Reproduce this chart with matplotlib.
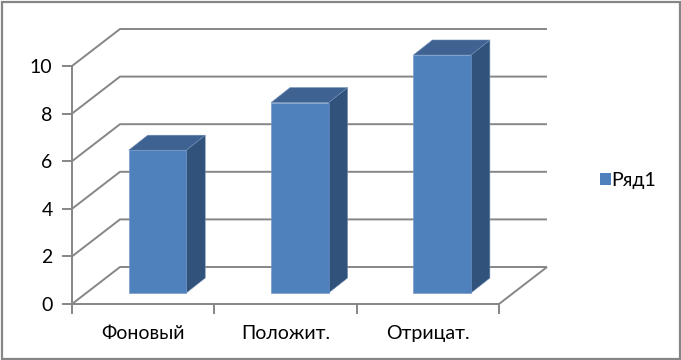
import matplotlib
matplotlib.use("Agg")
import matplotlib.pyplot as plt
from matplotlib.patches import Polygon, Rectangle, Patch

categories = ["Фоновый", "Положит.", "Отрицат."]
values = [6, 8, 10]
y_ticks = [0, 2, 4, 6, 8, 10]
series_name = "Ряд1"

W, H = 681, 360
GRAY = "#868686"
FRONT, TOP, SIDE = "#4F81BD", "#3E6392", "#31527A"

plt.rcParams["font.family"] = ["Lato", "DejaVu Sans"]
fig = plt.figure(figsize=(W / 100, H / 100), dpi=100, facecolor="white")
L, R, B, T = 72, 499, 304, 66
ax = fig.add_axes([L / W, 1 - B / H, (R - L) / W, (B - T) / H])
ax.set_xlim(0, 3)
ax.set_ylim(0, 10)
ax.set_facecolor("none")
for s in ("top", "right"):
    ax.spines[s].set_visible(False)
for s in ("left", "bottom"):
    ax.spines[s].set_color(GRAY)
    ax.spines[s].set_linewidth(1.4)

ux = (R - L) / 3      # pixels per category
uy = (B - T) / 10     # pixels per value unit
wall_dx, wall_dy = 48 / ux, 37 / uy
line_kw = dict(color=GRAY, lw=1.4, clip_on=False, solid_capstyle="butt", zorder=1)

# walls: gridlines and floor
for v in y_ticks:
    ax.plot([0, wall_dx, 3 + wall_dx], [v, v + wall_dy, v + wall_dy], **line_kw)
ax.plot([3, 3 + wall_dx], [0, wall_dy], **line_kw)

# bars
bar_w = 57.5 / ux
lift_dy = 11 / uy
lift_dx = 14.3 / ux
dep_dx, dep_dy = 19 / ux, 15 / uy
for i, v in enumerate(values):
    x0 = i + 0.5 + lift_dx - bar_w / 2
    x1 = x0 + bar_w
    y0, y1 = lift_dy, lift_dy + v
    kw = dict(clip_on=False, zorder=3, lw=0.4)
    ax.add_patch(Polygon([(x1, y0), (x1 + dep_dx, y0 + dep_dy), (x1 + dep_dx, y1 + dep_dy), (x1, y1)],
                         fc=SIDE, ec="#6F8DB5", **kw))
    ax.add_patch(Polygon([(x0, y1), (x1, y1), (x1 + dep_dx, y1 + dep_dy), (x0 + dep_dx, y1 + dep_dy)],
                         fc=TOP, ec="#6F8DB5", **kw))
    ax.add_patch(Rectangle((x0, y0), bar_w, v, fc=FRONT, ec="#6F95C8", **kw))

ax.set_yticks(y_ticks)
ax.set_xticks([0, 1, 2, 3])
ax.set_xticklabels([])
ax.set_xticks([0.5, 1.5, 2.5], categories, minor=True)
ax.tick_params(axis="both", which="major", color=GRAY, width=1.4, length=7, labelsize=14, labelcolor="black")
ax.tick_params(axis="y", pad=7)
ax.tick_params(axis="x", which="minor", length=0, labelsize=14, pad=15)

# legend
ax.legend(handles=[Patch(facecolor=FRONT, label=series_name)], loc="center left",
          bbox_to_anchor=((600 - L) / (R - L), (B - 180.5) / (B - T)), frameon=False,
          fontsize=14, handlelength=0.56, handleheight=0.56, handletextpad=0.0,
          borderpad=0, borderaxespad=0)

# outer frame
fig.add_artist(Rectangle((1.5 / W, 1.5 / H), (W - 3) / W, (H - 3) / H, transform=fig.transFigure,
                         fc="none", ec=GRAY, lw=1.6))
fig.savefig("out.png", dpi=100, facecolor="white")
